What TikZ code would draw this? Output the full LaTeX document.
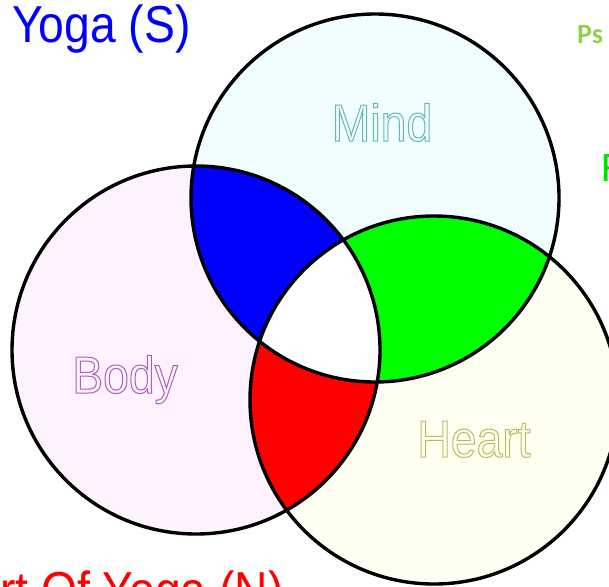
\documentclass[tikz,border=0pt]{standalone}
\usepackage{fontspec}
\usepackage{xcolor}
\usepackage{tikz}
\setmainfont{Liberation Sans}
\newfontfamily\slidefont[FakeStretch=0.89]{Liberation Sans}
\newfontfamily\calfont{Carlito}
\definecolor{mindfill}{RGB}{242, 253, 255}
\definecolor{bodyfill}{RGB}{253, 242, 253}
\definecolor{heartfill}{RGB}{255, 255, 242}
\definecolor{mindtxt}{RGB}{96, 184, 184}
\definecolor{bodytxt}{RGB}{168, 96, 190}
\definecolor{hearttxt}{RGB}{190, 186, 90}
\definecolor{psgreen}{RGB}{146, 208, 80}
\definecolor{fgreen}{RGB}{0, 226, 0}
% hollow letters: stroke only, no fill
\newcommand{\hollow}[1]{\special{pdf:literal direct 1 Tr 1 w}#1\special{pdf:literal direct 0 Tr}}

\begin{document}
\begin{tikzpicture}[
    x=1pt, y=-1pt,
    ring/.style={draw=black, line width=3.4pt},
    label/.style={inner sep=0pt, font=\slidefont\fontsize{52}{52}\selectfont},
    title/.style={inner sep=0pt, anchor=base west, font=\slidefont\fontsize{52}{52}\selectfont}
]
\clip (0,0) rectangle (609,586);

% Circle centres
\coordinate (mind) at (375,198);
\coordinate (body) at (196,350);
\coordinate (heart) at (434,400);

% Pale fills
\fill[bodyfill] (body) circle (184pt);
\fill[mindfill] (mind) circle (184pt);
\fill[heartfill] (heart) circle (184pt);

% Overlaps
\begin{scope}
  \clip (mind) circle (184pt);
  \fill[blue] (body) circle (184pt);
\end{scope}
\begin{scope}
  \clip (mind) circle (184pt);
  \fill[green] (heart) circle (184pt);
\end{scope}
\begin{scope}
  \clip (body) circle (184pt);
  \fill[red] (heart) circle (184pt);
\end{scope}
\begin{scope}
  \clip (mind) circle (184pt);
  \clip (body) circle (184pt);
  \fill[white] (heart) circle (184pt);
\end{scope}

% Outlines
\draw[ring] (mind) circle (184pt);
\draw[ring] (body) circle (184pt);
\draw[ring] (heart) circle (184pt);

% Circle labels
\node[label, anchor=base, text=mindtxt] (mindlabel) at (382,141) {\hollow{Mind}};
\node[label, anchor=base, text=bodytxt] (bodylabel) at (125,393) {\hollow{Body}};
\node[label, anchor=base, text=hearttxt] (heartlabel) at (474,457) {\hollow{Heart}};

% Titles (cut by the frame)
\node[title, text=blue] (yogas) at (12,42) {Yoga (S)};
\node[title, anchor=base east, text=red] (yogan) at (284,608) {rt Of Yoga (N)};
\node[inner sep=0pt, anchor=base west, text=psgreen, font=\calfont\bfseries\fontsize{28}{28}\selectfont] (ps) at (577,44) {Ps};
\node[inner sep=0pt, anchor=base west, text=fgreen, font=\calfont\fontsize{42}{42}\selectfont] (fpart) at (601,181) {F};
\end{tikzpicture}
\end{document}
